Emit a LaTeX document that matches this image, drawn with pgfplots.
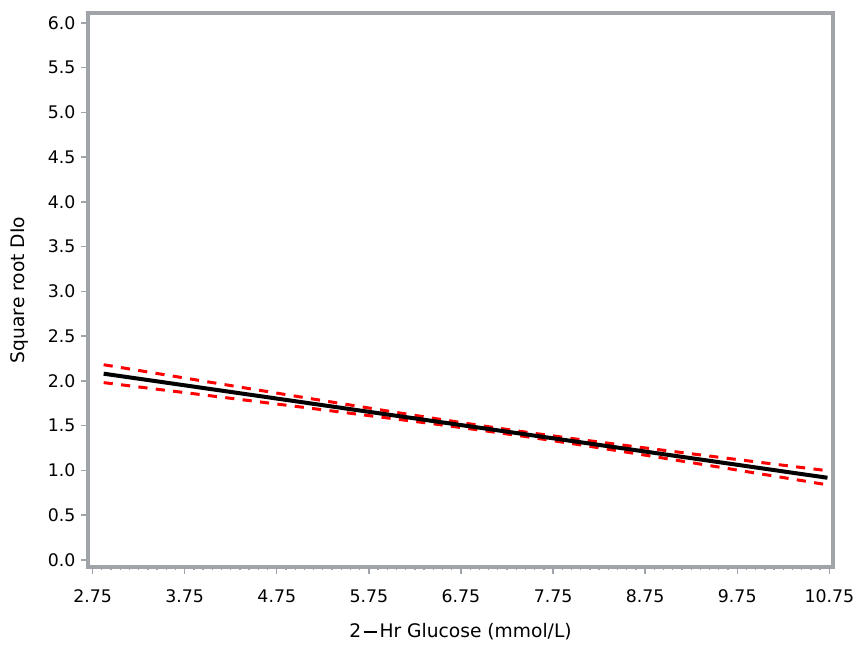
\documentclass[border=0pt]{standalone}
\usepackage{pgfplots}
\pgfplotsset{compat=1.18}
\usepackage{fontspec}
\setmainfont{DejaVu Sans}
\definecolor{framegray}{RGB}{160,164,168}
\definecolor{cired}{RGB}{255,0,0}

\begin{document}
\begin{tikzpicture}
% page area around the plot frame
\useasboundingbox (-52.8pt,-47.4pt) rectangle (460.8pt,340.2pt);
\begin{axis}[
  at={(0pt,0pt)}, anchor=south west,
  scale only axis,
  width=447pt, height=332.4pt,
  xmin=2.70, xmax=10.79,
  ymin=-0.08, ymax=6.11,
  axis line style={framegray, line width=2.4pt},
  tick style={framegray, line width=0.8pt},
  xtick={2.75,3.75,...,10.75},
  ytick={0,0.5,...,6},
  minor x tick num=9,
  tick align=outside,
  major tick length=4pt,
  minor tick length=2pt,
  xtick pos=bottom, ytick pos=left,
  /pgf/number format/assume math mode=true,
  xticklabel style={/pgf/number format/.cd, fixed, fixed zerofill, precision=2},
  yticklabel style={/pgf/number format/.cd, fixed, fixed zerofill, precision=1},
  ticklabel style={font=\fontsize{10.4}{12}\selectfont, black},
  xticklabel shift=6pt,
  yticklabel shift=0pt,
  xlabel={2\kern1.5pt\raisebox{2.7pt}{\rule{8pt}{1.4pt}}\kern1.5pt Hr Glucose (mmol/L)},
  ylabel={Square root DIo},
  label style={font=\fontsize{11.2}{13}\selectfont},
  xlabel style={at={(axis description cs:0.5,0)}, anchor=center, yshift=-39pt},
  ylabel style={at={(axis description cs:0,0.5)}, anchor=center, yshift=41pt},
  clip=false,
]
% 95% confidence band
\addplot[cired, line width=1.8pt, dash pattern=on 5.5pt off 5pt] coordinates {
  (2.87,2.180) (3.5,2.074) (4.0,1.989) (4.5,1.905) (5.0,1.821) (5.5,1.738)
  (6.0,1.655) (6.5,1.574) (7.0,1.495) (7.5,1.420) (8.0,1.350) (8.5,1.283)
  (9.0,1.218) (9.5,1.153) (10.0,1.089) (10.5,1.025) (10.73,0.996)
};
\addplot[cired, line width=1.8pt, dash pattern=on 5.5pt off 5pt] coordinates {
  (2.87,1.980) (3.5,1.900) (4.0,1.837) (4.5,1.773) (5.0,1.709) (5.5,1.644)
  (6.0,1.579) (6.5,1.513) (7.0,1.443) (7.5,1.370) (8.0,1.292) (8.5,1.211)
  (9.0,1.128) (9.5,1.045) (10.0,0.961) (10.5,0.877) (10.73,0.838)
};
% fitted line
\addplot[black, line width=2.4pt] coordinates {
  (2.87,2.080) (3.5,1.987) (4.0,1.913) (4.5,1.839) (5.0,1.765) (5.5,1.691)
  (6.0,1.617) (6.5,1.543) (7.0,1.469) (7.5,1.395) (8.0,1.321) (8.5,1.247)
  (9.0,1.173) (9.5,1.099) (10.0,1.025) (10.5,0.951) (10.73,0.917)
};
\end{axis}
\end{tikzpicture}
\end{document}
